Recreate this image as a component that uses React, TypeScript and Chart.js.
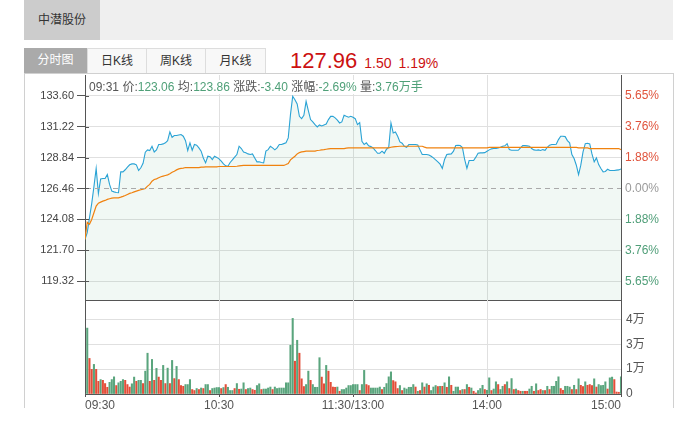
import React, { useEffect, useRef } from 'react';
import { Chart, registerables } from 'chart.js';

Chart.register(...registerables);

const FONT = '"Liberation Sans", Arial, "Noto Sans CJK SC", sans-serif';

const stockName = '中潜股份';
const tabNames = ['分时图', '日K线', '周K线', '月K线'];
const lastPrice = '127.96';
const changeAbs = '1.50';
const changePct = '1.19%';
const infoTime = '09:31';
const infoKeys = ['价', '均', '涨跌', '涨幅', '量'];
const infoVals = ['123.06', '123.86', '-3.40', '-2.69%', '3.76万手'];

const prevClose = 126.46;
const priceMin = 117.88;
const priceMax = 135.19;
const priceTicks = [119.32, 121.7, 124.08, 126.46, 128.84, 131.22, 133.6];
const pctLabels = ['5.65%', '3.76%', '1.88%', '0.00%', '1.88%', '3.76%', '5.65%'];

const timeTickIndex = [0, 60, 120, 180, 240];
const timeLabels = ['09:30', '10:30', '11:30/13:00', '14:00', '15:00'];

const volMax = 3.78;
const volTicks = [0, 1, 2, 3];
const volLabels = ['0', '1万', '3万', '4万'];

const prices = [
  122.54, 123.06, 124.2, 125.3, 126.6, 128.0, 126.08, 127.2, 127.23, 127.23,
  127.53, 126.77, 126.26, 126.2, 126.15, 126.13, 127.74, 127.74, 127.9, 128.1,
  128.28, 128.35, 128.35, 128.28, 127.84, 128.05, 128.4, 129.25, 129.43, 129.38,
  129.71, 129.27, 129.43, 129.84, 129.84, 129.89, 129.97, 130.14, 130.81, 130.4,
  130.53, 130.53, 130.58, 130.61, 130.48, 130.14, 129.38, 129.97, 129.4, 129.84,
  129.79, 129.58, 129.33, 128.81, 128.43, 128.94, 128.9, 128.69, 128.94, 128.85,
  128.74, 128.56, 128.35, 128.2, 128.17, 128.46, 128.66, 128.87, 129.07, 129.71,
  129.53, 129.27, 129.2, 129.12, 129.07, 129.12, 128.81, 128.51, 128.51, 128.46,
  128.43, 129.33, 129.45, 129.71, 129.58, 129.43, 129.58, 129.84, 129.84, 129.91,
  129.97, 130.35, 132.14, 133.55, 133.29, 132.96, 132.01, 131.83, 132.09, 133.16,
  132.45, 131.76, 131.58, 131.37, 131.19, 131.35, 131.27, 131.35, 131.42, 131.76,
  132.01, 132.01, 131.89, 131.71, 131.5, 131.58, 132.09, 132.01, 131.94, 132.01,
  131.94, 131.83, 131.37, 131.53, 130.09, 129.84, 129.97, 129.74, 129.68, 129.58,
  129.38, 129.17, 129.17, 129.33, 129.17, 129.48, 129.63, 131.5, 130.73, 130.81,
  130.48, 130.04, 129.94, 129.71, 129.63, 129.84, 129.84, 129.84, 129.84, 129.81,
  129.43, 129.07, 129.07, 129.07, 129.04, 128.94, 128.81, 128.66, 128.51, 128.33,
  128.0, 128.69, 129.07, 129.1, 129.12, 129.33, 129.76, 129.79, 129.76, 129.61,
  128.69, 128.0, 128.61, 128.61, 128.61, 128.87, 129.17, 129.2, 129.2, 129.22,
  129.33, 129.43, 129.51, 129.53, 129.53, 129.58, 129.63, 129.71, 129.74, 129.91,
  129.45, 129.4, 129.4, 129.4, 129.4, 129.58, 129.76, 129.76, 129.74, 129.71,
  129.53, 129.43, 129.4, 129.43, 129.38, 129.45, 129.4, 129.63, 129.79, 129.84,
  129.84, 129.86, 130.22, 130.48, 130.48, 130.45, 130.14, 129.97, 129.07, 128.76,
  128.25, 127.53, 128.25, 129.27, 129.91, 129.94, 129.89, 129.12, 128.51, 128.81,
  128.3, 128.0, 127.74, 127.77, 127.94, 127.84, 127.84, 127.84, 127.87, 127.89,
  127.96,
];

const avgPrices = [
  122.54, 123.86, 123.7, 124.08, 124.59, 125.1, 125.33, 125.41, 125.49, 125.54,
  125.62, 125.67, 125.72, 125.74, 125.74, 125.74, 125.79, 125.85, 125.92, 126.0,
  126.08, 126.13, 126.2, 126.26, 126.31, 126.36, 126.41, 126.46, 126.64, 126.77,
  127.02, 127.15, 127.2, 127.28, 127.36, 127.41, 127.46, 127.51, 127.59, 127.71,
  127.79, 127.89, 127.97, 128.0, 128.02, 128.07, 128.07, 128.07, 128.07, 128.07,
  128.07, 128.07, 128.1, 128.1, 128.12, 128.12, 128.12, 128.12, 128.12, 128.12,
  128.15, 128.15, 128.15, 128.15, 128.15, 128.15, 128.15, 128.15, 128.17, 128.2,
  128.22, 128.23, 128.23, 128.23, 128.23, 128.23, 128.23, 128.23, 128.23, 128.23,
  128.23, 128.23, 128.23, 128.23, 128.23, 128.23, 128.23, 128.23, 128.23, 128.23,
  128.3, 128.38, 128.66, 128.81, 128.94, 129.12, 129.22, 129.27, 129.3, 129.33,
  129.33, 129.33, 129.33, 129.33, 129.38, 129.4, 129.43, 129.45, 129.48, 129.51,
  129.53, 129.53, 129.53, 129.53, 129.53, 129.53, 129.53, 129.56, 129.58, 129.58,
  129.58, 129.58, 129.58, 129.58, 129.58, 129.58, 129.58, 129.58, 129.58, 129.58,
  129.58, 129.58, 129.58, 129.58, 129.58, 129.58, 129.58, 129.63, 129.66, 129.68,
  129.69, 129.71, 129.71, 129.71, 129.71, 129.71, 129.71, 129.71, 129.71, 129.71,
  129.71, 129.71, 129.64, 129.58, 129.58, 129.58, 129.58, 129.58, 129.58, 129.58,
  129.58, 129.58, 129.58, 129.58, 129.58, 129.58, 129.58, 129.58, 129.58, 129.58,
  129.58, 129.58, 129.58, 129.58, 129.58, 129.58, 129.58, 129.58, 129.58, 129.58,
  129.58, 129.62, 129.62, 129.62, 129.62, 129.62, 129.62, 129.62, 129.62, 129.62,
  129.62, 129.62, 129.62, 129.62, 129.62, 129.62, 129.62, 129.62, 129.62, 129.62,
  129.62, 129.62, 129.62, 129.62, 129.62, 129.62, 129.62, 129.62, 129.62, 129.62,
  129.62, 129.62, 129.62, 129.62, 129.62, 129.62, 129.62, 129.62, 129.62, 129.62,
  129.62, 129.58, 129.58, 129.58, 129.58, 129.58, 129.53, 129.53, 129.53, 129.53,
  129.53, 129.53, 129.53, 129.53, 129.53, 129.53, 129.53, 129.53, 129.53, 129.53,
  129.45,
];

const volumes = [
  0, 2.65, 1.43, 0.99, 1.19, 0.99, 0.51, 0.58, 0.55, 0.42,
  0.27, 0.47, 0.58, 0.69, 0.34, 0.45, 0.51, 0.58, 0.55, 0.38,
  0.28, 0.41, 0.68, 0.51, 0.55, 0.55, 0.42, 0.92, 1.64, 0.51,
  1.39, 0.55, 1.03, 0.68, 0.55, 1.15, 0.42, 1.04, 0.42, 1.35,
  0.62, 1.11, 0.58, 0.34, 0.31, 0.38, 0.38, 0.58, 0.18, 0.14,
  0.22, 0.18, 0.24, 0.22, 0.38, 0.38, 0.14, 0.22, 0.24, 0.26,
  0.26, 0.22, 0.26, 0.38, 0.27, 0.14, 0.14, 0.22, 0.42, 0.19,
  0.2, 0.45, 0.18, 0.22, 0.24, 0.18, 0.15, 0.34, 0.41, 0.18,
  0.2, 0.2, 0.24, 0.28, 0.18, 0.28, 0.22, 0.24, 0.24, 0.24,
  0.45, 0.45, 1.96, 3.04, 1.32, 2.16, 1.64, 0.61, 0.3, 0.38,
  0.92, 0.55, 0.38, 0.27, 0.27, 1.46, 0.68, 0.41, 1.15, 0.92,
  0.47, 0.28, 0.27, 0.28, 0.11, 0.18, 0.18, 0.24, 0.34, 0.34,
  0.38, 0.38, 0.38, 0.14, 0.38, 0.95, 0.38, 0.34, 0.24, 0.24,
  0.24, 0.24, 0.28, 0.18, 0.27, 0.42, 0.69, 0.89, 0.54, 0.49,
  0.22, 0.34, 0.14, 0.24, 0.2, 0.27, 0.27, 0.38, 0.28, 0.11,
  0.14, 0.45, 0.28, 0.41, 0.35, 0.14, 0.28, 0.34, 0.3, 0.31,
  0.31, 0.45, 0.27, 0.69, 0.35, 0.11, 0.28, 0.28, 0.14, 0.18,
  0.18, 0.38, 0.27, 0.24, 0.11, 0.04, 0.14, 0.22, 0.35, 0.18,
  0.15, 0.65, 0.14, 0.2, 0.49, 0.38, 0.18, 0.31, 0.38, 0.49,
  0.22, 0.62, 0.18, 0.2, 0.14, 0.11, 0.11, 0.11, 0.11, 0.2,
  0.31, 0.11, 0.41, 0.14, 0.18, 0.14, 0.14, 0.31, 0.18, 0.31,
  0.31, 0.51, 0.69, 0.22, 0.15, 0.31, 0.31, 0.28, 0.18, 0.35,
  0.18, 0.61, 0.35, 0.3, 0.49, 0.35, 0.38, 0.34, 0.61, 0.28,
  0.38, 0.34, 0.35, 0.49, 0.2, 0.65, 0.68, 0.58, 0.08, 0.07,
  0.69,
];

// 1 = red (up), 0 = green (down)
const volUp = [
  0, 0, 1, 1, 0, 1, 1, 0, 1, 1,
  1, 0, 0, 0, 1, 0, 0, 0, 1, 1,
  1, 0, 0, 1, 0, 0, 1, 0, 0, 1,
  0, 1, 0, 1, 1, 0, 1, 0, 1, 0,
  1, 0, 1, 1, 1, 0, 0, 0, 1, 1,
  0, 1, 0, 1, 0, 0, 1, 0, 0, 0,
  0, 1, 0, 1, 0, 0, 0, 1, 0, 1,
  0, 0, 1, 0, 0, 1, 1, 0, 0, 1,
  0, 0, 0, 0, 1, 0, 0, 0, 0, 0,
  0, 0, 0, 0, 1, 0, 1, 1, 1, 0,
  0, 1, 0, 0, 0, 0, 1, 1, 0, 1,
  1, 1, 1, 0, 1, 0, 0, 0, 0, 0,
  0, 0, 0, 1, 0, 0, 1, 1, 0, 0,
  0, 0, 0, 1, 0, 0, 0, 0, 1, 1,
  1, 0, 1, 0, 0, 0, 0, 0, 1, 0,
  1, 0, 1, 0, 1, 0, 0, 0, 1, 0,
  1, 0, 1, 0, 1, 0, 0, 0, 1, 0,
  1, 0, 1, 0, 1, 1, 0, 0, 0, 1,
  0, 0, 1, 0, 0, 1, 0, 0, 1, 0,
  1, 0, 1, 0, 1, 1, 0, 1, 1, 0,
  0, 1, 0, 1, 1, 0, 1, 0, 1, 0,
  0, 0, 0, 1, 1, 0, 0, 0, 1, 0,
  1, 0, 1, 1, 0, 1, 1, 1, 0, 1,
  0, 0, 0, 0, 1, 0, 0, 1, 1, 1,
  0,
];

const RED = '#e34d38';
const GREEN = '#5aa57d';
const AXIS = '#555555';
const GRID = '#e0e0e0';

const fixTicks = (values: number[]) => (scale: any) => {
  scale.ticks = values.map((v) => ({ value: v }));
};

const fitWidth = (w: number) => (s: any) => {
  s.width = w;
  s.paddingTop = 0;
  s.paddingBottom = 0;
  s.paddingLeft = 0;
  s.paddingRight = 0;
};

const fitHeight = (h: number) => (s: any) => {
  s.height = h;
  s.paddingTop = 0;
  s.paddingBottom = 0;
  s.paddingLeft = 0;
  s.paddingRight = 0;
};

function PriceChart() {
  const ref = useRef<HTMLCanvasElement>(null);
  useEffect(() => {
    const dashPlugin = {
      id: 'prevCloseDash',
      afterDatasetsDraw(chart: any) {
        const { ctx, chartArea, scales } = chart;
        const y = Math.round(scales.y.getPixelForValue(prevClose)) + 0.5;
        ctx.save();
        ctx.strokeStyle = '#aaaaaa';
        ctx.lineWidth = 1;
        ctx.setLineDash([5, 4]);
        ctx.beginPath();
        ctx.moveTo(chartArea.left + 1, y);
        ctx.lineTo(chartArea.right, y);
        ctx.stroke();
        ctx.setLineDash([]);
        ctx.strokeStyle = AXIS;
        for (const v of priceTicks) {
          const ty = Math.round(scales.y.getPixelForValue(v)) + 0.5;
          ctx.beginPath();
          ctx.moveTo(chartArea.left, ty);
          ctx.lineTo(chartArea.left + 4, ty);
          ctx.stroke();
        }
        ctx.restore();
      },
    };
    const chart = new Chart(ref.current as HTMLCanvasElement, {
      type: 'line',
      data: {
        datasets: [
          {
            data: avgPrices.map((v, i) => ({ x: i, y: v })),
            borderColor: '#f0820f',
            borderWidth: 1.2,
            pointRadius: 0,
            fill: false,
            tension: 0,
            order: 1,
          },
          {
            data: prices.map((v, i) => ({ x: i, y: v })),
            borderColor: '#2aa3d5',
            borderWidth: 1.1,
            pointRadius: 0,
            fill: 'start',
            backgroundColor: 'rgba(100,180,130,0.09)',
            tension: 0,
            order: 2,
          },
        ],
      },
      options: {
        animation: false,
        responsive: false,
        maintainAspectRatio: false,
        events: [],
        layout: { padding: { top: 5, bottom: 5, left: 0, right: 0 } },
        plugins: { legend: { display: false }, tooltip: { enabled: false } },
        scales: {
          x: {
            type: 'linear',
            min: 0,
            max: 240,
            afterBuildTicks: fixTicks(timeTickIndex),
            ticks: { display: false },
            grid: { color: GRID, drawTicks: false },
            border: { display: true, color: AXIS },
            afterFit: fitHeight(0),
          },
          y: {
            position: 'left',
            min: priceMin,
            max: priceMax,
            afterBuildTicks: fixTicks(priceTicks),
            ticks: {
              font: { family: FONT, size: 11 },
              color: '#444',
              padding: 3,
              callback: (v: any) => Number(v).toFixed(2),
            },
            grid: {
              color: (c: any) =>
                c.tick && Math.abs(c.tick.value - prevClose) < 1e-6 ? 'rgba(0,0,0,0)' : GRID,
              tickColor: AXIS,
              tickLength: 8,
            },
            border: { color: AXIS },
            afterFit: fitWidth(85),
          },
          y2: {
            position: 'right',
            min: priceMin,
            max: priceMax,
            afterBuildTicks: fixTicks(priceTicks),
            ticks: {
              font: { family: FONT, size: 12 },
              padding: 4,
              color: (c: any) => (c.index < 3 ? '#4f9e78' : c.index === 3 ? '#9a9a9a' : '#e0533c'),
              callback: (_v: any, i: number) => pctLabels[i],
            },
            grid: { drawOnChartArea: false, drawTicks: false },
            border: { color: AXIS },
            afterFit: fitWidth(67),
          },
        },
      } as any,
      plugins: [dashPlugin],
    });
    return () => chart.destroy();
  }, []);
  return (
    <canvas
      ref={ref}
      width={688}
      height={235}
      style={{ position: 'absolute', left: 0, top: 70, width: 688, height: 235 }}
    />
  );
}

function VolumeChart() {
  const ref = useRef<HTMLCanvasElement>(null);
  useEffect(() => {
    const chart = new Chart(ref.current as HTMLCanvasElement, {
      type: 'bar',
      data: {
        datasets: [
          {
            data: volumes.map((v, i) => ({ x: i, y: v })),
            backgroundColor: volUp.map((u) => (u ? RED : GREEN)),
            barThickness: 1.4,
            borderWidth: 0,
          },
        ],
      },
      options: {
        animation: false,
        responsive: false,
        maintainAspectRatio: false,
        events: [],
        layout: { padding: { top: 5, bottom: 0, left: 0, right: 0 } },
        plugins: { legend: { display: false }, tooltip: { enabled: false } },
        scales: {
          x: {
            type: 'linear',
            min: 0,
            max: 240,
            offset: false,
            afterBuildTicks: fixTicks(timeTickIndex),
            ticks: {
              font: { family: FONT, size: 12 },
              color: '#555',
              padding: 1,
              align: 'inner',
              maxRotation: 0,
              autoSkip: false,
              callback: (_v: any, i: number) => timeLabels[i],
            },
            grid: { color: GRID, tickColor: AXIS, tickLength: 3, offset: false },
            border: { color: AXIS },
            afterFit: fitHeight(33),
          },
          y: {
            position: 'left',
            min: 0,
            max: volMax,
            afterBuildTicks: fixTicks(volTicks),
            ticks: { display: false },
            grid: { color: GRID, drawTicks: false },
            border: { color: AXIS },
            afterFit: fitWidth(85),
          },
          y2: {
            position: 'right',
            min: 0,
            max: volMax,
            afterBuildTicks: fixTicks(volTicks),
            ticks: {
              font: { family: FONT, size: 12 },
              color: '#555',
              padding: 5,
              callback: (_v: any, i: number) => volLabels[i],
            },
            grid: { drawOnChartArea: false, drawTicks: false },
            border: { color: AXIS },
            afterFit: fitWidth(67),
          },
        },
      } as any,
    });
    return () => chart.destroy();
  }, []);
  return (
    <canvas
      ref={ref}
      width={688}
      height={132}
      style={{ position: 'absolute', left: 0, top: 295, width: 688, height: 132 }}
    />
  );
}

export default function App() {
  const tabX = [24, 87, 146, 205, 265];
  return (
    <div
      style={{
        position: 'absolute',
        left: 0,
        top: 0,
        width: 688,
        height: 427,
        overflow: 'hidden',
        background: '#fff',
        fontFamily: FONT,
      }}
    >
      <div style={{ position: 'absolute', left: 24, top: 0, width: 649, height: 40, background: '#efefef' }} />
      <div
        style={{
          position: 'absolute',
          left: 24,
          top: 0,
          width: 76,
          height: 40,
          background: '#cccccc',
          color: '#333',
          fontSize: 12,
          lineHeight: '40px',
          textAlign: 'center',
        }}
      >
        {stockName}
      </div>
      {tabNames.map((t, i) => (
        <div
          key={t}
          style={{
            position: 'absolute',
            left: tabX[i],
            top: 48,
            width: tabX[i + 1] - tabX[i] - (i === 0 ? 0 : 1),
            height: i === 0 ? 25 : 24,
            background: i === 0 ? '#aaaaaa' : '#f8f8f8',
            border: i === 0 ? 'none' : '1px solid #dddddd',
            borderBottom: 'none',
            color: i === 0 ? '#fff' : '#333',
            fontSize: 12,
            lineHeight: '25px',
            textAlign: 'center',
          }}
        >
          {t}
        </div>
      ))}
      <div style={{ position: 'absolute', left: 290, top: 50, color: '#cc1111', whiteSpace: 'nowrap' }}>
        <span style={{ fontSize: 22, lineHeight: '22px' }}>{lastPrice}</span>
        <span style={{ fontSize: 14, marginLeft: 7 }}>{changeAbs}</span>
        <span style={{ fontSize: 14, marginLeft: 7 }}>{changePct}</span>
      </div>
      <div style={{ position: 'absolute', left: 24, top: 73, width: 650, height: 1, background: '#d0d0d0' }} />
      <div style={{ position: 'absolute', left: 24, top: 73, width: 1, height: 335, background: '#d0d0d0' }} />
      <div style={{ position: 'absolute', left: 673, top: 73, width: 1, height: 335, background: '#d0d0d0' }} />
      <PriceChart />
      <VolumeChart />
      <div
        style={{
          position: 'absolute',
          left: 89,
          top: 80,
          fontSize: 12,
          lineHeight: '14px',
          whiteSpace: 'nowrap',
          color: '#555',
          background: '#fff',
        }}
      >
        {infoTime}{' '}
        {infoKeys.map((k, i) => (
          <span key={k}>
            {k}:<span style={{ color: '#4fa078' }}>{infoVals[i]}</span>
            {i < infoKeys.length - 1 ? ' ' : ''}
          </span>
        ))}
      </div>
    </div>
  );
}
